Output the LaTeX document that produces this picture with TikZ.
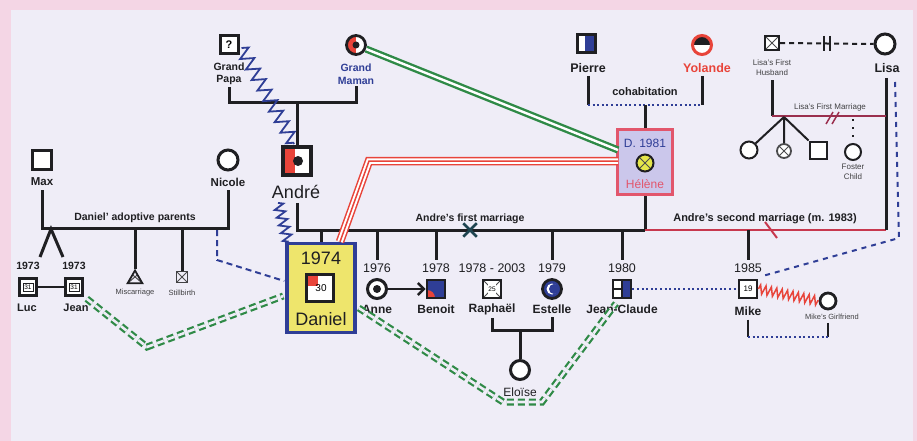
\documentclass[tikz,border=0pt]{standalone}
\usepackage{fontspec}
\setmainfont{Liberation Sans}
\usetikzlibrary{decorations.pathmorphing,arrows.meta,shapes.geometric,shapes.misc}
\definecolor{bgpink}{HTML}{F4D6E5}
\definecolor{bglav}{HTML}{EFEDF7}
\definecolor{ink}{HTML}{1F1F22}
\definecolor{navy}{HTML}{2F3E96}
\definecolor{grn}{HTML}{2F8A47}
\definecolor{rd}{HTML}{E8443A}
\definecolor{mar}{HTML}{9A2F4E}
\definecolor{redline}{HTML}{C7384E}
\definecolor{dyel}{HTML}{EEE56C}
\definecolor{hlav}{HTML}{CBC7EB}
\definecolor{hred}{HTML}{E2566C}
\definecolor{hyel}{HTML}{E4E64A}
\definecolor{xteal}{HTML}{1E4450}
\begin{document}
\begin{tikzpicture}[x=1pt,y=-1pt,
  nm/.style={font=\bfseries\fontsize{12}{13}\selectfont, text=ink, inner sep=0pt},
  sm/.style={font=\fontsize{8}{9.5}\selectfont, text=ink!85, inner sep=0pt, align=center},
  yr/.style={font=\fontsize{12.5}{13}\selectfont, text=ink, inner sep=0pt},
  rel/.style={draw=ink, line width=3pt},
  trel/.style={draw=ink, line width=2pt},
  msq/.style={rectangle, draw=ink, fill=white, line width=2.8pt, minimum size=18pt, inner sep=0pt},
  fci/.style={circle, draw=ink, fill=white, line width=2.8pt, minimum size=19pt, inner sep=0pt},
  dotrel/.style={draw=navy, line width=2.2pt, dash pattern=on 2pt off 2.6pt},
  dashrel/.style={draw=navy, line width=2pt, dash pattern=on 5pt off 5pt},
  zz/.style={decorate, decoration={zigzag, segment length=12pt, amplitude=6.5pt}},
  gdd/.style={draw=grn, line width=2.2pt, double=bglav, double distance=2.6pt, dash pattern=on 7pt off 4pt},
  gdbl/.style={draw=grn, line width=2.4pt, double=white, double distance=2.4pt},
  xmark/.style={path picture={\draw[ink!80, line width=1pt] (path picture bounding box.south west) -- (path picture bounding box.north east) (path picture bounding box.north west) -- (path picture bounding box.south east);}},
]
% background
\fill[bgpink] (0,0) rectangle (917,441);
\fill[bglav] (11,10) rectangle (913,441);
\useasboundingbox (0,0) rectangle (917,441);

% ---------------- grandparents
\node[msq, minimum size=18pt, line width=3pt, font=\bfseries\fontsize{11}{11}\selectfont] (papa) at (229,45) {?};
\node[fci, path picture={\fill[rd] (path picture bounding box.south west) rectangle (path picture bounding box.north); \fill[ink] (path picture bounding box.center) circle (3.5pt);}] (maman) at (356,45) {};
\node[nm, font=\bfseries\fontsize{10.5}{12.5}\selectfont, align=center] (papaL) at (229,74) {Grand\\Papa};
\node[nm, font=\bfseries\fontsize{10.5}{12.5}\selectfont, align=center, text=navy] (mamanL) at (356,74) {Grand\\Maman};
\coordinate (gpm) at (297,103);
\draw[rel] ([shift={(0,2)}]papaL.south) -- (papaL.south |- gpm) -- (mamanL.south |- gpm) -- ([shift={(0,2)}]mamanL.south);

% ---------------- Andre
\node[msq, minimum size=28pt, line width=4pt, path picture={\fill[rd] (path picture bounding box.south west) rectangle ([shift={(-2,0)}]path picture bounding box.north); \fill[ink] ([shift={(1,0)}]path picture bounding box.center) circle (5pt);}] (andre) at (297,161) {};
\draw[rel] (gpm) -- (andre.north);
\draw[navy, line width=1.8pt, zz] ([shift={(2,3)}]papa.east) -- ([shift={(-3,-1)}]andre.north);
\node[font=\fontsize{18}{18}\selectfont, text=ink, inner sep=0pt] (andreL) at (296,192) {André};

% ---------------- Pierre / Yolande / Helene
\node[msq, minimum size=18pt, line width=3pt, path picture={\fill[navy] ([shift={(-1,0)}]path picture bounding box.south) rectangle (path picture bounding box.north east);}] (pierre) at (586,44) {};
\node[fci, draw=rd, line width=3pt, minimum size=19pt, path picture={\fill[ink] (path picture bounding box.west) rectangle (path picture bounding box.north east);}] (yolande) at (702,45) {};
\node[nm, font=\bfseries\fontsize{12.5}{13}\selectfont] (pierreL) at (588,68) {Pierre};
\node[nm, font=\bfseries\fontsize{12.5}{13}\selectfont, text=rd] (yolandeL) at (707,68) {Yolande};
\coordinate (coh) at (645,105);
\draw[rel] ([shift={(0,3)}]pierreL.south) -- (pierreL.south |- coh);
\draw[rel] ([shift={(-5,3)}]yolandeL.south) -- ([shift={(-5,0)}]yolandeL.south |- coh);
\draw[dotrel] (pierreL.south |- coh) -- ([shift={(-5,0)}]yolandeL.south |- coh);
\node[nm, font=\bfseries\fontsize{11}{12}\selectfont] (cohL) at (645,92) {cohabitation};
\node[rectangle, draw=hred, fill=hlav, line width=3pt, minimum width=55pt, minimum height=65pt, inner sep=0pt] (helene) at (645,162) {};
\draw[rel] (coh) -- (helene.north);
\node[font=\fontsize{12}{12}\selectfont, text=navy, inner sep=0pt] (helD) at (645,143) {D. 1981};
\node[circle, draw=ink, fill=hyel, line width=2pt, minimum size=17pt, inner sep=0pt, xmark] (helC) at (645,163) {};
\node[font=\fontsize{12}{12}\selectfont, text=hred, inner sep=0pt] (helN) at (645,184) {Hélène};

% ---------------- marriages of Andre
\coordinate (m1a) at (297,230);
\coordinate (m1b) at (645,230);
\coordinate (m2b) at (886,230);
\draw[rel] (helene.south) -- (m1b);
\draw[redline, line width=2.5pt] (m1b) -- (m2b);
\draw[rel] ([shift={(1,4)}]andreL.south) -- (m1a) -- (m1b);
\node[cross out, draw=xteal, line width=2.5pt, minimum size=11pt, inner sep=0pt] (div1) at (470,230) {};
\node[nm, font=\bfseries\fontsize{10.5}{11}\selectfont] (m1L) at (470,219) {Andre's first marriage};
\node[nm, font=\bfseries\fontsize{11}{12}\selectfont] (m2L) at (765,219) {Andre's second marriage (m. 1983)};
\coordinate (sepA) at (765,222);
\coordinate (sepB) at (777,238);
\draw[redline, line width=2pt] (sepA) -- (sepB);

% ---------------- Lisa and her first husband
\node[msq, minimum size=14pt, line width=2pt, xmark] (husb) at (772,43) {};
\node[fci, line width=3pt, minimum size=20pt] (lisa) at (885,44) {};
\node[sm, font=\fontsize{8}{10}\selectfont] (husbL) at (772,68) {Lisa's First\\Husband};
\node[nm, font=\bfseries\fontsize{12.5}{13}\selectfont] (lisaL) at (887,68) {Lisa};
\draw[trel, dash pattern=on 5pt off 4pt] (husb.east) -- (lisa.west);
\coordinate (dv1) at (824,36);
\coordinate (dv2) at (830,36);
\draw[trel] (dv1) -- ++(0,15) (dv2) -- ++(0,15);
\coordinate (lm1) at (772,116);
\coordinate (lm2) at (886,116);
\draw[rel] ([shift={(0,4)}]husbL.south) -- (lm1);
\draw[rel] ([shift={(-1,5)}]lisaL.south) -- (m2b);
\draw[mar, line width=2pt] (lm1) -- (lm2);
\node[sm, font=\fontsize{8}{9}\selectfont] (lmL) at (830,107) {Lisa's First Marriage};
\draw[mar, line width=1.5pt] (826,124) -- (833,112) (832,124) -- (839,112);
\coordinate (lapex) at (784,117);
\node[fci, line width=2pt, minimum size=17pt] (lc1) at (749,150) {};
\node[fci, line width=1.8pt, minimum size=14pt, draw=ink!80, xmark] (lc2) at (784,151) {};
\node[msq, line width=2pt, minimum size=17pt] (lc3) at (818,150) {};
\node[fci, line width=2pt, minimum size=16pt] (lc4) at (853,152) {};
\draw[trel] (lapex) -- (lc1.north east) (lapex) -- (lc2.north) (lapex) -- (lc3.north west);
\draw[ink, line width=2pt, dash pattern=on 2pt off 6pt] (853,119) -- (lc4.north);
\node[sm, font=\fontsize{8}{10}\selectfont] (lc4L) at (853,172) {Foster\\Child};

% Lisa -> Mike dashed
\coordinate (ld1) at (895,82);
\coordinate (ld2) at (899,238);

% ---------------- Green and red emotional links to Helene
\coordinate (hg) at (618,150);
\draw[gdbl] (maman) -- (hg);
\coordinate (rk) at (369,161);
\coordinate (hr) at (618,161);

% ---------------- Max / Nicole
\node[msq, minimum size=19pt, line width=3pt] (max) at (42,160) {};
\node[fci, line width=3pt, minimum size=20pt] (nicole) at (228,160) {};
\node[nm, font=\bfseries\fontsize{11.5}{12}\selectfont] (maxL) at (42,182) {Max};
\node[nm, font=\bfseries\fontsize{11.5}{12}\selectfont] (nicoleL) at (228,182) {Nicole};
\coordinate (mn1) at (42,228);
\coordinate (mn2) at (228,228);
\draw[rel] ([shift={(0,4)}]maxL.south) -- (mn1) -- (mn2) -- ([shift={(0,4)}]nicoleL.south);
\node[nm, font=\bfseries\fontsize{10.5}{11}\selectfont] (mnL) at (135,218) {Daniel' adoptive parents};
\coordinate (twin) at (51,229);
\coordinate (tw1) at (40,257);
\coordinate (tw2) at (63,257);
\draw[rel, line join=miter] (tw1) -- (twin) -- (tw2);
\node[msq, minimum size=17pt, line width=2.5pt, font=\fontsize{6.5}{6.5}\selectfont, path picture={\draw[ink, line width=0.6pt] ([shift={(-5,-4)}]path picture bounding box.center) rectangle ([shift={(5,4)}]path picture bounding box.center);}] (luc) at (28,287) {31};
\node[msq, minimum size=17pt, line width=2.5pt, font=\fontsize{6.5}{6.5}\selectfont, path picture={\draw[ink, line width=0.6pt] ([shift={(-5,-4)}]path picture bounding box.center) rectangle ([shift={(5,4)}]path picture bounding box.center);}] (jean) at (74,287) {31};
\draw[rel, line width=2.5pt] (luc.east) -- (jean.west);
\node[nm, font=\bfseries\fontsize{10.5}{11}\selectfont] (lucY) at (28,266) {1973};
\node[nm, font=\bfseries\fontsize{10.5}{11}\selectfont] (jeanY) at (74,266) {1973};
\node[nm, font=\bfseries\fontsize{11}{12}\selectfont] (lucL) at (27,308) {Luc};
\node[nm, font=\bfseries\fontsize{11}{12}\selectfont] (jeanL) at (76,308) {Jean};
\node[regular polygon, regular polygon sides=3, draw=ink, line width=1.8pt, minimum size=17pt, inner sep=0pt, xmark] (misc) at (135,279) {};
\node[rectangle, draw=ink!85, line width=1.5pt, minimum size=11pt, inner sep=0pt, xmark] (still) at (182,277) {};
\draw[rel] (mn1 -| misc) -- (misc.north);
\draw[rel] (mn1 -| still) -- (still.north);
\node[sm, font=\fontsize{7.5}{8}\selectfont] (miscL) at (135,293) {Miscarriage};
\node[sm, font=\fontsize{7.5}{8}\selectfont] (stillL) at (182,293) {Stillbirth};

% ---------------- Daniel
\node[rectangle, draw=navy, fill=dyel, line width=3.5pt, minimum width=68pt, minimum height=89pt, inner sep=0pt] (daniel) at (321,288) {};
\draw[rel] (m1a -| daniel.north) -- (daniel.north);
\node[font=\fontsize{18}{18}\selectfont, text=ink, inner sep=0pt] (danY) at (321,258) {1974};
\node[msq, minimum size=27pt, line width=3.5pt, font=\fontsize{10}{10}\selectfont, path picture={\fill[rd] (path picture bounding box.north west) rectangle ([shift={(-2,-2)}]path picture bounding box.center);}] (danS) at (320,288) {\hspace*{2pt}30};
\node[font=\fontsize{18}{18}\selectfont, text=ink, inner sep=0pt] (danN) at (321,319) {Daniel};
\draw[navy, line width=1.8pt, decorate, decoration={zigzag, segment length=8pt, amplitude=5pt}] ([shift={(-18,4)}]andreL.south) -- ([shift={(3,0)}]daniel.north west);
\draw[rd, line width=8.5pt] ([shift={(19,0)}]daniel.north) -- (rk) -- (hr);
\draw[white, line width=5.5pt] ([shift={(19,0)}]daniel.north) -- (rk) -- (hr);
\draw[rd, line width=1.5pt] ([shift={(19,0)}]daniel.north) -- (rk) -- (hr);
\draw[dashrel, dash pattern=on 6pt off 4pt] (217,230) -- (217,260) -- ([shift={(-1,-7)}]daniel.west);

% ---------------- children of first marriage
\node[fci, line width=3pt, path picture={\fill[ink] (path picture bounding box.center) circle (4pt);}] (anne) at (377,289) {};
\node[msq, fill=navy, path picture={\fill[rd] (path picture bounding box.south west) circle (8pt);}] (benoit) at (436,289) {};
\node[msq, font=\fontsize{6.5}{6.5}\selectfont, xmark] (raph) at (492,289) {\colorbox{white}{\hspace*{-2.5pt}25\hspace*{-2.5pt}}};
\node[fci, fill=navy, path picture={\fill[white] (path picture bounding box.center) circle (5.5pt); \fill[navy] ([shift={(2,0)}]path picture bounding box.center) circle (5pt);}] (estelle) at (552,289) {};
\node[msq, path picture={\fill[navy] (path picture bounding box.south) rectangle (path picture bounding box.north east); \draw[ink, line width=1.5pt] (path picture bounding box.south) -- (path picture bounding box.north) (path picture bounding box.west) -- (path picture bounding box.center);}] (jc) at (622,289) {};
\node[msq, font=\fontsize{8}{8}\selectfont] (mike) at (748,289) {19};
\draw[ink, line width=2.5pt, -{Straight Barb[length=6pt,width=12pt]}] (anne.east) -- (benoit.west);
\node[yr] (anneY) at (377,268) {1976};
\node[yr] (benoitY) at (436,268) {1978};
\node[yr] (raphY) at (492,268) {1978 - 2003};
\node[yr] (estelleY) at (552,268) {1979};
\node[yr] (jcY) at (622,268) {1980};
\node[yr] (mikeY) at (748,268) {1985};
\draw[rel] (m1a -| anne) -- ([shift={(0,-3)}]anneY.north);
\draw[rel] (m1a -| benoit) -- ([shift={(0,-3)}]benoitY.north);
\draw[rel] (m1a -| estelle) -- ([shift={(0,-3)}]estelleY.north);
\draw[rel] (m1a -| jc) -- ([shift={(0,-3)}]jcY.north);
\draw[rel] (m1a -| mike) -- ([shift={(0,-3)}]mikeY.north);
\node[nm] (anneL) at (377,309) {Anne};
\node[nm] (benoitL) at (436,309) {Benoit};
\node[nm] (raphL) at (492,309) {Raphaël};
\node[nm] (estelleL) at (552,309) {Estelle};
\node[nm] (jcL) at (622,309) {Jean-Claude};
\node[nm] (mikeL) at (748,311) {Mike};
\draw[dotrel] (jc.east) -- (mike.west);

% Eloise
\coordinate (re) at (520,330);
\node[fci, line width=3pt, minimum size=19pt] (eloise) at (520,370) {};
\node[font=\fontsize{12}{12}\selectfont, text=ink, inner sep=0pt] (eloiseL) at (520,392) {Eloïse};
\draw[rel] ([shift={(0,3)}]raphL.south) -- (raphL.south |- re) -- (estelleL.south |- re) -- ([shift={(0,3)}]estelleL.south);
\draw[rel] (re) -- (eloise.north);

% Mike and girlfriend
\node[fci, minimum size=16pt] (gf) at (828,301) {};
\node[sm, font=\fontsize{7.5}{8}\selectfont] (gfL) at (832,317) {Mike's Girlfriend};
\draw[rd, line width=1.5pt, decorate, decoration={zigzag, segment length=5.5pt, amplitude=4.5pt}] (mike.east) -- (gf.west);
\coordinate (bk1) at (748,337);
\coordinate (bk2) at (828,337);
\draw[trel] ([shift={(0,4)}]mikeL.south) -- (bk1);
\draw[trel] ([shift={(0,3)}]gfL.south -| bk2) -- (bk2);
\draw[dotrel] (bk1) -- (bk2);
\draw[dashrel] (ld1) -- (ld2) -- ([shift={(2,-2)}]mike.north east);

% green dashed double (cut-off)
\draw[gdd] ([shift={(3,2)}]jean.south east) -- (147,347) -- ([shift={(-2,8)}]daniel.west);
\draw[gdd] ([shift={(2,20)}]daniel.east) -- (503,402) -- (542,402) -- ([shift={(-6,4)}]jc.south);
\end{tikzpicture}
\end{document}
